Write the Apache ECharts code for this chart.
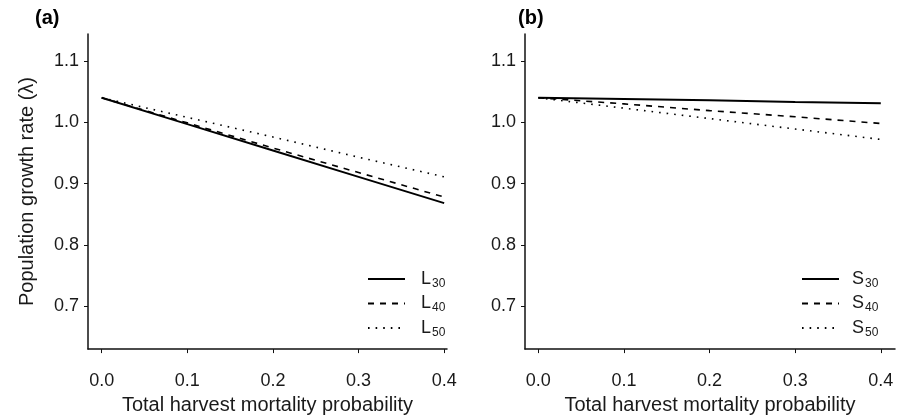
<!DOCTYPE html>
<html>
<head>
<meta charset="utf-8">
<script src="https://cdn.jsdelivr.net/npm/echarts@6/dist/echarts.min.js"></script>
<style>
html,body{margin:0;padding:0;background:#fff;}
#chart{width:906px;height:420px;}
</style>
</head>
<body>
<div id="chart"></div>
<script>
// x values: total harvest mortality probability
const xValues = [0.0, 0.1, 0.2, 0.3, 0.4];
// panel (a)
const L30 = [1.040, 0.997, 0.954, 0.911, 0.868];
const L40 = [1.040, 0.999, 0.958, 0.918, 0.878];
const L50 = [1.040, 1.008, 0.976, 0.943, 0.911];
// panel (b)
const S30 = [1.040, 1.038, 1.036, 1.033, 1.031];
const S40 = [1.040, 1.030, 1.019, 1.009, 0.998];
const S50 = [1.040, 1.023, 1.006, 0.989, 0.972];
// tick labels
const xTicks = [0.0, 0.1, 0.2, 0.3, 0.4];
const yTicks = [0.7, 0.8, 0.9, 1.0, 1.1];
const panelLabels = ['(a)', '(b)'];
const xTitle = 'Total harvest mortality probability';
const yTitle = 'Population growth rate (\u03bb)';

const FONT = '"Liberation Sans", Arial, Helvetica, sans-serif';
const TXT = '#1a1a1a';

function pairs(ys) { return xValues.map((x, i) => [x, ys[i]]); }

const lineStyles = [
  { type: 'solid', width: 1.9 },
  { type: [6, 6], width: 1.6 },
  { type: [1.6, 6], width: 1.6 }
];

function xAxis(gridIndex, min, max) {
  return {
    type: 'value', gridIndex, min, max,
    name: xTitle, nameLocation: 'middle', nameGap: 42,
    nameTextStyle: { fontFamily: FONT, fontSize: 20, color: TXT },
    axisLine: { show: true, onZero: false, lineStyle: { color: '#111', width: 1.5 } },
    axisTick: { show: true, length: 4, customValues: xTicks, lineStyle: { color: '#111', width: 1 } },
    axisLabel: { customValues: xTicks, margin: 23, fontFamily: FONT, fontSize: 18, color: TXT,
                 formatter: v => v.toFixed(1) },
    splitLine: { show: false }
  };
}
function yAxis(gridIndex, withName) {
  return {
    type: 'value', gridIndex, min: 0.63, max: 1.144,
    name: withName ? yTitle : '', nameLocation: 'middle', nameGap: 51,
    nameTextStyle: { fontFamily: FONT, fontSize: 20, color: TXT },
    axisLine: { show: true, onZero: false, lineStyle: { color: '#111', width: 1.5 } },
    axisTick: { show: true, length: 4, customValues: yTicks, lineStyle: { color: '#111', width: 1 } },
    axisLabel: { customValues: yTicks, margin: 9, fontFamily: FONT, fontSize: 18, color: TXT,
                 formatter: v => v.toFixed(1) },
    splitLine: { show: false }
  };
}

function mkSeries(name, ys, idx, k) {
  return {
    type: 'line', name, data: pairs(ys), xAxisIndex: idx, yAxisIndex: idx,
    symbol: 'none', showSymbol: false, silent: true, animation: false,
    lineStyle: Object.assign({ color: '#000' }, lineStyles[k]),
    itemStyle: { color: '#000' }
  };
}

function legend(names, left, padLeft) {
  return {
    data: names, orient: 'vertical', left, top: 270, padding: 0,
    icon: 'inherit',
    itemWidth: 37, itemHeight: 14, itemGap: 5, align: 'left',
    itemStyle: { opacity: 0 },
    formatter: n => '{m|' + n[0] + '}{s|' + n.slice(1) + '}',
    textStyle: {
      color: TXT, fontFamily: FONT,
      rich: {
        m: { fontSize: 18, color: TXT, fontFamily: FONT, padding: [0, 0, 0, padLeft] },
        s: { fontSize: 12, color: TXT, fontFamily: FONT, padding: [9, 0, 0, 1] }
      }
    }
  };
}

const chart = echarts.init(document.getElementById('chart'), null, { renderer: 'canvas' });
chart.setOption({
  animation: false,
  backgroundColor: '#fff',
  grid: [
    { left: 88, top: 34, width: 359, height: 316 },
    { left: 525, top: 34, width: 370, height: 316 }
  ],
  xAxis: [xAxis(0, -0.016, 0.4033), xAxis(1, -0.0156, 0.4166)],
  yAxis: [yAxis(0, true), yAxis(1, false)],
  legend: [legend(['L30', 'L40', 'L50'], 367, 11), legend(['S30', 'S40', 'S50'], 801, 8)],
  graphic: [
    { type: 'text', left: 35, top: 8, style: { text: panelLabels[0], fontFamily: '"Liberation Sans Narrow", "Liberation Sans", Arial', fontWeight: 'bold', fontSize: 20, fill: '#000' } },
    { type: 'text', left: 518, top: 8, style: { text: panelLabels[1], fontFamily: '"Liberation Sans Narrow", "Liberation Sans", Arial', fontWeight: 'bold', fontSize: 20, fill: '#000' } }
  ],
  series: [
    mkSeries('L30', L30, 0, 0), mkSeries('L40', L40, 0, 1), mkSeries('L50', L50, 0, 2),
    mkSeries('S30', S30, 1, 0), mkSeries('S40', S40, 1, 1), mkSeries('S50', S50, 1, 2)
  ]
});
</script>
</body>
</html>
